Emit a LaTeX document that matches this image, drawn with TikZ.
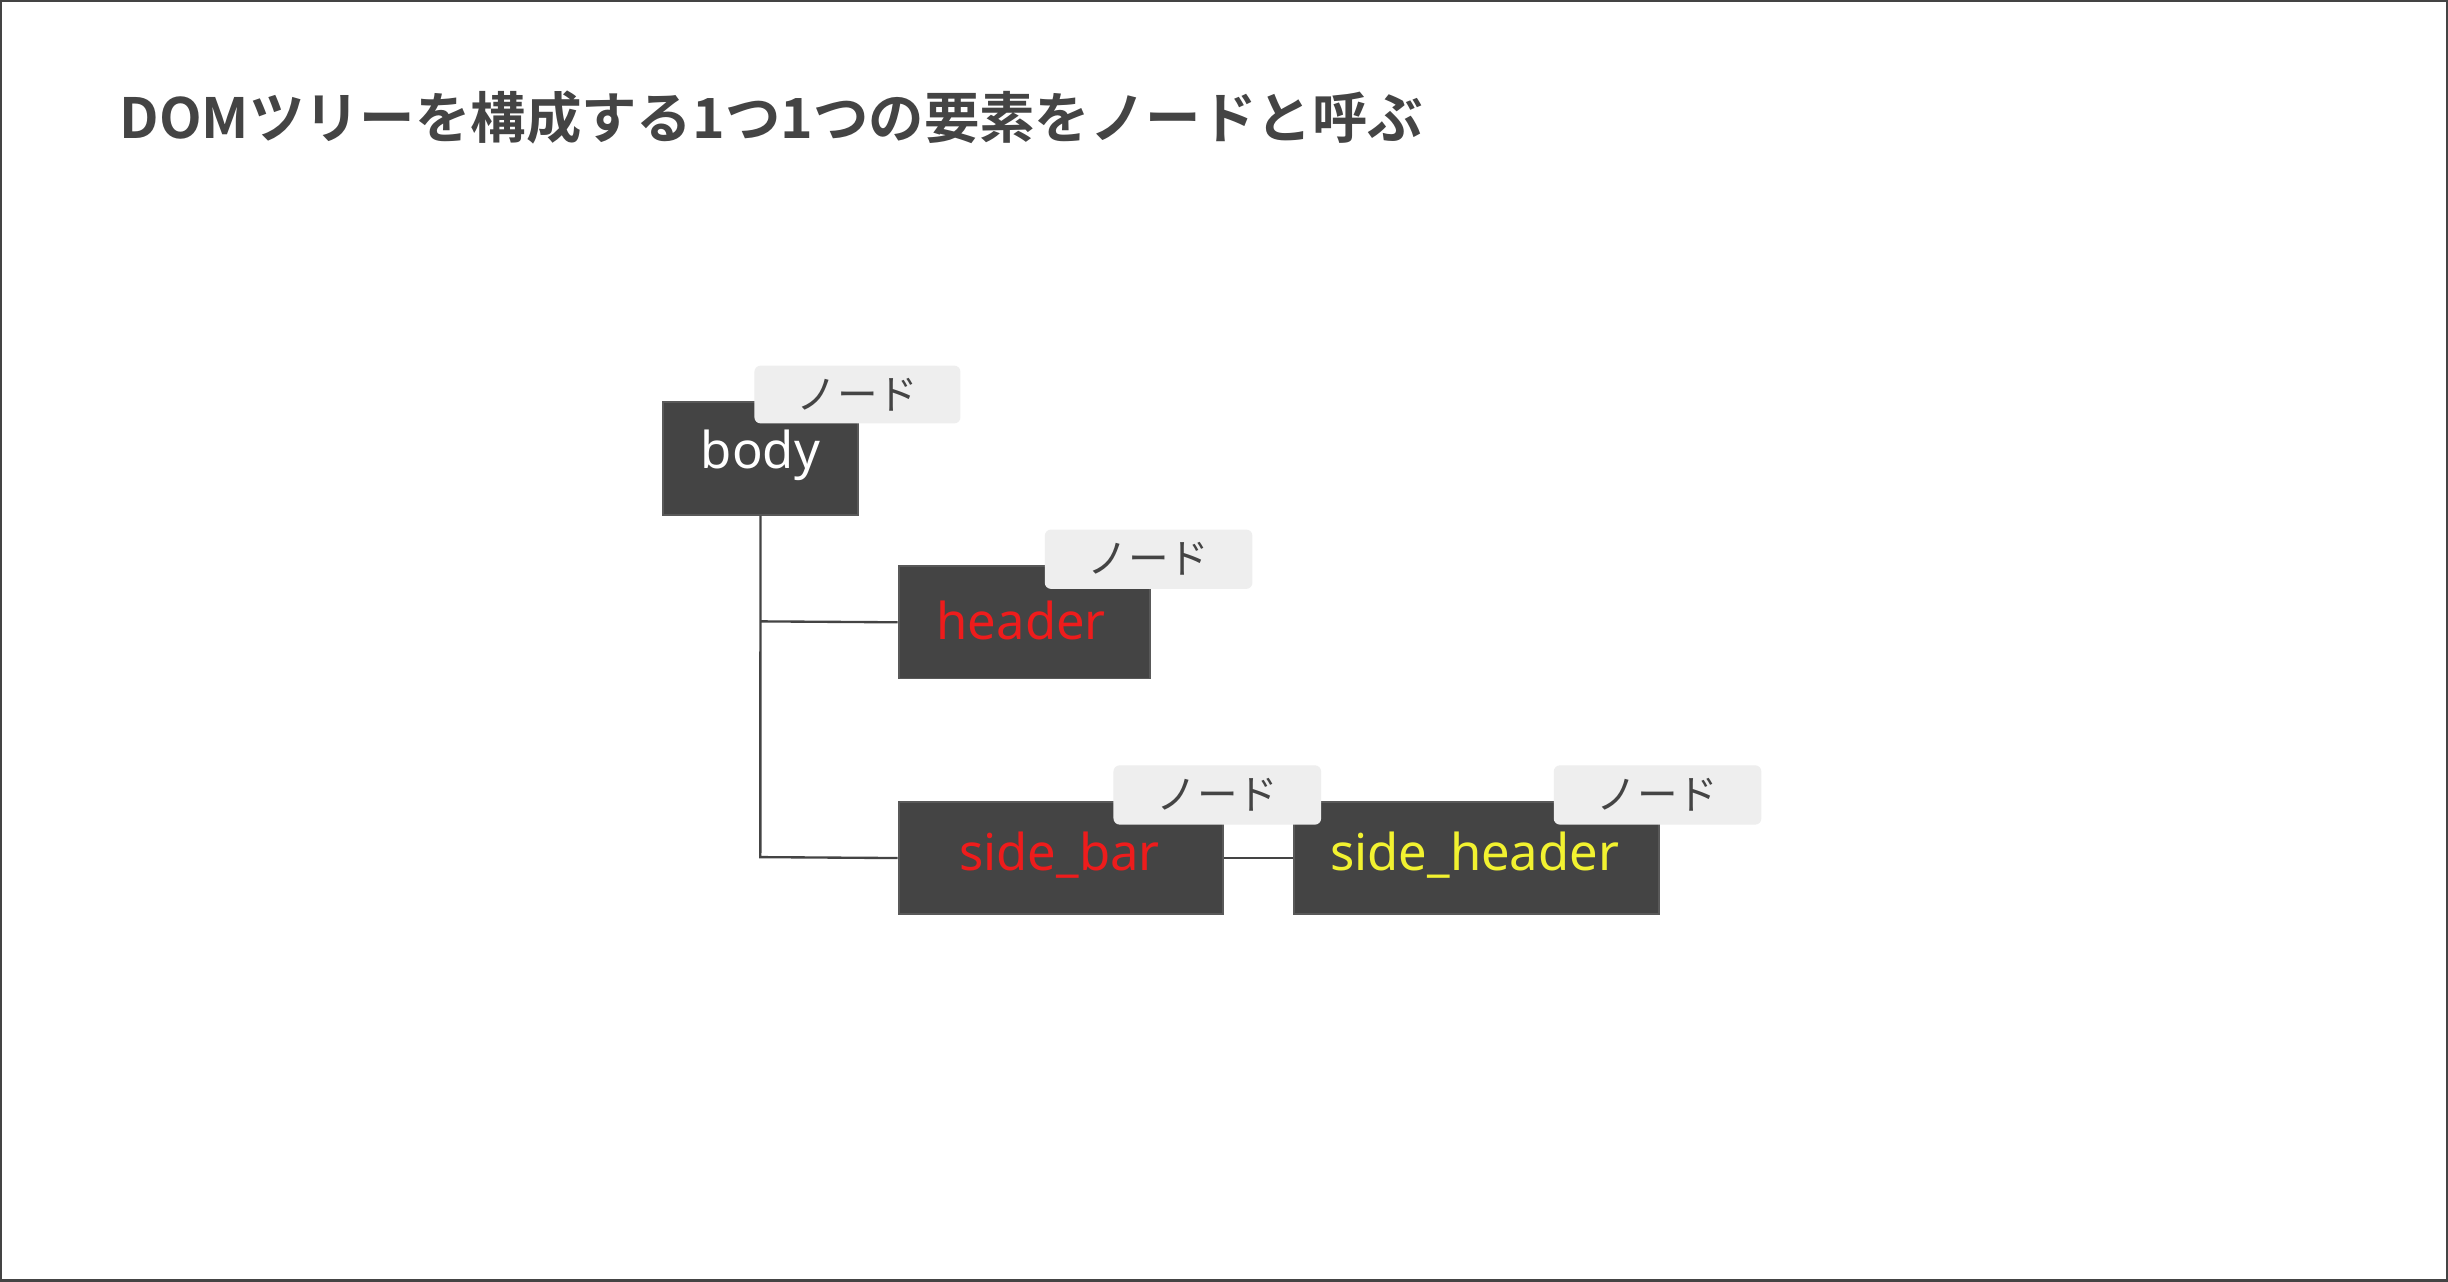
\documentclass[tikz,border=0pt]{standalone}
\usepackage{fontspec}
\setmainfont{Noto Sans CJK JP}[BoldFont={Noto Sans CJK JP Bold}]
\newfontfamily\latinf{Noto Sans}
\begin{document}
\begin{tikzpicture}[x=1pt,y=-1pt,
  box/.style={draw=gray!70!black,line width=1.2pt,fill=boxgray,anchor=north west,inner sep=0pt},
  tag/.style={fill=taggray,rounded corners=4pt,anchor=north west,inner sep=0pt,text=darktext,font=\fontsize{26}{28}\selectfont},
  lbl/.style={font=\latinf\fontsize{32.5}{34}\selectfont},
  conn/.style={draw=darktext,line width=1.5pt}]
\definecolor{boxgray}{HTML}{444444}
\definecolor{taggray}{HTML}{EEEEEE}
\definecolor{darktext}{HTML}{444444}
\definecolor{redt}{HTML}{EE1C1C}
\definecolor{yelt}{HTML}{F2F230}
\draw[draw=darktext,line width=1.5pt,fill=white] (0.75,0.75) rectangle (1567.25,820.25);
\node[anchor=west,text=darktext,font=\bfseries\fontsize{35.5}{38}\selectfont] (title) at (73,75) {DOMツリーを構成する1つ1つの要素をノードと呼ぶ};
% boxes
\node[box,minimum width=125pt,minimum height=72pt] (body) at (424,257) {};
\node[lbl,text=white] at ([yshift=2pt]body.center) {body};
\node[box,minimum width=161pt,minimum height=72pt] (header) at (575,362) {};
\node[lbl,text=redt] at ([xshift=-2pt,yshift=1pt]header.center) {header};
\node[box,minimum width=208pt,minimum height=72pt] (sidebar) at (575,513) {};
\node[lbl,text=redt] at ([xshift=-1pt,yshift=2pt]sidebar.center) {side\_bar};
\node[box,minimum width=234pt,minimum height=72pt] (sideheader) at (828,513) {};
\node[lbl,text=yelt] at ([xshift=-1pt,yshift=2pt]sideheader.center) {side\_header};
% connectors
\coordinate (j1) at (487,398);
\coordinate (j2) at (487,549);
\draw[conn] (body.south) -- (j2) -- (sidebar.west);
\draw[conn] (j1) -- (header.west);
\draw[conn] (sidebar.east) -- (sideheader.west);
% tags
\node[tag,minimum width=132pt,minimum height=37pt] (t1) at (483,234) {ノード};
\node[tag,minimum width=133pt,minimum height=38pt] (t2) at (669,339) {ノード};
\node[tag,minimum width=133pt,minimum height=38pt] (t3) at (713,490) {ノード};
\node[tag,minimum width=133pt,minimum height=38pt] (t4) at (995,490) {ノード};
\end{tikzpicture}
\end{document}
